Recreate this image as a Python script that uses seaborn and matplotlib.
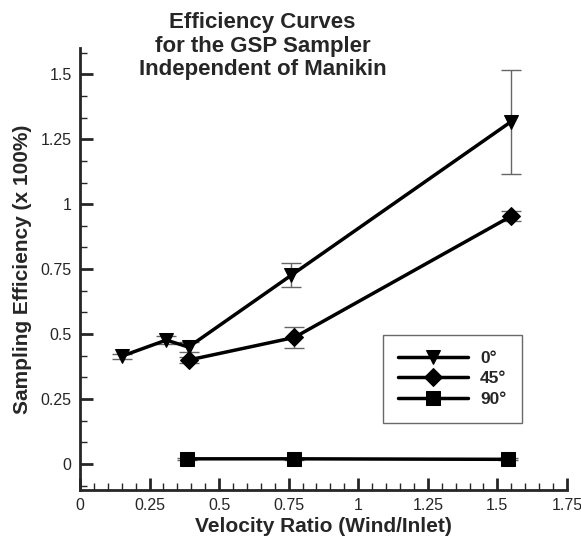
import numpy as np
import pandas as pd
import matplotlib
matplotlib.use('Agg')
import matplotlib.pyplot as plt
from matplotlib.ticker import MultipleLocator
import seaborn as sns

# Data
x_0 = [0.15, 0.31, 0.39, 0.76, 1.55]
y_0 = [0.415, 0.477, 0.45, 0.727, 1.318]
err_0 = [0.01, 0.015, 0.02, 0.045, 0.2]

x_45 = [0.39, 0.77, 1.55]
y_45 = [0.40, 0.487, 0.954]
err_45 = [0.012, 0.04, 0.02]

x_90 = [0.385, 0.77, 1.54]
y_90 = [0.02, 0.02, 0.018]
err_90 = [0.005, 0.005, 0.004]

labels = ['0°', '45°', '90°']
markers = ['v', 'D', 's']

sns.set_style('ticks')
plt.rcParams['font.family'] = ['Liberation Sans', 'DejaVu Sans']

fig = plt.figure(figsize=(5.81, 5.40), dpi=100)
ax = fig.add_axes([0.1377, 0.0926, 0.838, 0.818])

series = [(x_0, y_0, err_0), (x_45, y_45, err_45), (x_90, y_90, err_90)]
for (xs, ys, es), lab, mk in zip(series, labels, markers):
    ax.errorbar(xs, ys, yerr=es, fmt='none', ecolor='#666666', elinewidth=1,
                capsize=7, capthick=1, zorder=1)
    df = pd.DataFrame({'x': xs, 'y': ys})
    sns.lineplot(data=df, x='x', y='y', ax=ax, color='black', linewidth=2.5,
                 marker=mk, markersize=10 if mk != 'D' else 9, markeredgecolor='black',
                 label=lab, zorder=3)

ax.set_xlim(0, 1.75)
ax.set_ylim(-0.1, 1.6)
ax.xaxis.set_minor_locator(MultipleLocator(0.05))
ax.yaxis.set_minor_locator(MultipleLocator(0.25 / 3))
ax.set_xticks([0, 0.25, 0.5, 0.75, 1, 1.25, 1.5, 1.75])
ax.set_xticklabels(['0', '0.25', '0.5', '0.75', '1', '1.25', '1.5', '1.75'])
ax.set_yticks([0, 0.25, 0.5, 0.75, 1, 1.25, 1.5])
ax.set_yticklabels(['0', '0.25', '0.5', '0.75', '1', '1.25', '1.5'])
ax.tick_params(which='major', direction='in', length=9, width=2, labelsize=11.5, pad=6)
ax.tick_params(which='minor', direction='in', length=5, width=1)

sns.despine(ax=ax)
for s in ['left', 'bottom']:
    ax.spines[s].set_linewidth(2)

ax.set_xlabel('Velocity Ratio (Wind/Inlet)', fontsize=15, fontweight='bold', labelpad=3)
ax.set_ylabel('Sampling Efficiency (x 100%)', fontsize=15, fontweight='bold', labelpad=6)

fig.text(0.452, 0.978, 'Efficiency Curves\nfor the GSP Sampler\nIndependent of Manikin',
         ha='center', va='top', fontsize=16, fontweight='bold', linespacing=1.17)

leg = ax.legend(loc='upper left', bbox_to_anchor=(0.622, 0.351), fontsize=12.5,
                frameon=True, fancybox=False, edgecolor='#444444', handlelength=4.0,
                borderpad=0.9, labelspacing=0.32, handletextpad=0.7, borderaxespad=0)
leg.get_frame().set_linewidth(1)
leg.set_zorder(10)
for t in leg.get_texts():
    t.set_fontweight('bold')

fig.savefig('out.png', dpi=100)
